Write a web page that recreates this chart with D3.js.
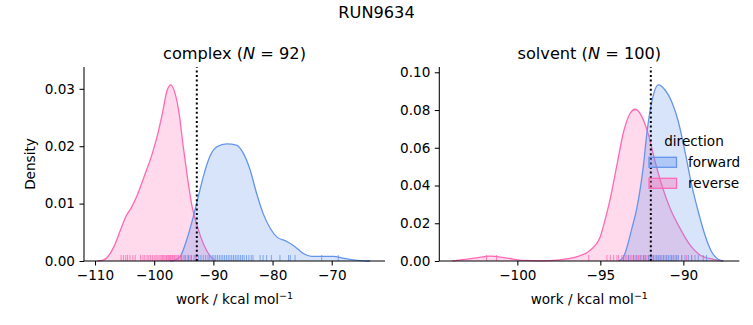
<!DOCTYPE html>
<html lang="en">
  <head>
    <meta charset="utf-8" />
    <script src="https://d3js.org/d3.v7.min.js"></script>
    <style>
      body { margin: 0; background: #fff; }
      svg text { font-family: 'DejaVu Sans', sans-serif; fill: #000; }
    </style>
  </head>
  <body>
    <svg id="chart" width="753" height="325"></svg>
    <script>
      // density curves: [work, density]
      const complexForward = [
        [-97.3, 0], [-96.4, 0.0002], [-95.6, 0.0008], [-94.5, 0.0037], [-93.4, 0.0077],
        [-92.55, 0.0112], [-91.7, 0.0147], [-90.6, 0.0182], [-89.4, 0.0199], [-87.75, 0.0204],
        [-86.1, 0.0202], [-84.95, 0.0188], [-83.8, 0.0159], [-82.7, 0.0118], [-81.6, 0.0083],
        [-80.4, 0.0057], [-79.3, 0.0042], [-77.6, 0.0034], [-76.2, 0.0025], [-74.8, 0.0013],
        [-73.4, 0.0008], [-71.4, 0.0008], [-69.7, 0.0008], [-68.1, 0.0005], [-66.4, 0.0002],
        [-64.1, 0], [-63.5, 0]
      ];
      const complexReverse = [
        [-109.6, 0], [-108.5, 0.0002], [-106.8, 0.0025], [-105.7, 0.0054], [-104.8, 0.0077],
        [-103.7, 0.0096], [-102.85, 0.0115], [-101.7, 0.0147], [-100.3, 0.0188], [-99.5, 0.0217],
        [-98.6, 0.0258], [-97.8, 0.0298], [-97.2, 0.0307], [-96.5, 0.0293], [-95.8, 0.0258],
        [-95.1, 0.02], [-94.4, 0.0147], [-93.6, 0.0095], [-92.7, 0.006], [-91.6, 0.0028],
        [-90.5, 0.0008], [-89.6, 0]
      ];
      const solventForward = [
        [-93.9, 0], [-93.6, 0.0023], [-93.1, 0.0173], [-92.8, 0.028], [-92.4, 0.0509],
        [-92.2, 0.0675], [-91.9, 0.0844], [-91.5, 0.0933], [-91.1, 0.0906], [-90.7, 0.0844],
        [-90.3, 0.0738], [-89.9, 0.0579], [-89.5, 0.0403], [-89.1, 0.0261], [-88.7, 0.0138],
        [-88.3, 0.0049], [-87.9, 0.0009], [-87.6, 0]
      ];
      const solventReverse = [
        [-103.9, 0], [-103.65, 0.0003], [-102.6, 0.0015], [-101.64, 0.0026], [-100.6, 0.0015],
        [-99.65, 0.0003], [-98.5, 0.0001], [-97.6, 0.0005], [-96.4, 0.0023], [-95.6, 0.0058],
        [-95.0, 0.013], [-94.8, 0.019], [-94.4, 0.0332], [-94.0, 0.0509], [-93.6, 0.0685],
        [-93.2, 0.0783], [-92.9, 0.0804], [-92.5, 0.0765], [-92.1, 0.0668], [-91.7, 0.0526],
        [-91.3, 0.0403], [-90.8, 0.0279], [-90.2, 0.0173], [-89.6, 0.0085], [-89.0, 0.0032],
        [-88.2, 0.0009], [-87.6, 0]
      ];

      // rug values (individual work samples)
      const complexReverseRug = [
        -105.6, -105.2, -104.8, -104.5, -104.1, -103.6, -103.2, -102.3, -101.9, -101.6,
        -101.2, -100.9, -100.6, -100.3, -100.0, -99.7, -99.5, -99.2, -99.0, -98.8,
        -98.6, -98.4, -98.2, -98.0, -97.9, -97.7, -97.6, -97.4, -97.3, -97.2,
        -97.0, -96.9, -96.8, -96.6, -96.5, -96.3, -96.1, -95.9, -95.6, -95.3,
        -95.0, -94.7, -94.4, -94.1, -93.8, -93.3, -92.9
      ];
      const complexForwardRug = [
        -95.4, -94.8, -94.2, -93.7, -93.1, -92.5, -92.1, -91.7, -91.3, -90.9,
        -90.6, -90.2, -89.9, -89.6, -89.3, -89.0, -88.7, -88.4, -88.1, -87.8,
        -87.5, -87.2, -86.9, -86.6, -86.3, -86.0, -85.7, -85.4, -85.1, -84.8,
        -84.4, -84.0, -83.6, -83.3, -82.1, -81.6, -81.0, -80.2, -78.75, -77.3,
        -77.0, -76.2, -71.7, -68.9
      ];
      const solventReverseRug = [
        -101.85, -101.25, -95.7, -94.6, -94.4, -94.2, -94.0, -93.9, -93.7, -93.6,
        -93.5, -93.4, -93.3, -93.2, -93.1, -93.0, -92.9, -92.8, -92.7, -92.6,
        -92.5, -92.4, -92.3, -92.2, -92.1, -92.0, -91.9, -91.8, -91.6, -91.4,
        -91.2, -91.0, -90.7, -90.4, -90.1, -89.8, -89.5
      ];
      const solventForwardRug = [
        -93.6, -93.3, -93.0, -92.8, -92.6, -92.4, -92.3, -92.1, -92.0, -91.9,
        -91.8, -91.7, -91.6, -91.5, -91.4, -91.3, -91.2, -91.1, -91.0, -90.9,
        -90.8, -90.7, -90.6, -90.5, -90.4, -90.3, -90.1, -89.9, -89.7, -89.5,
        -89.3, -89.1, -88.8, -88.6
      ];

      const directions = ['forward', 'reverse'];
      const colors = { forward: '#6495ed', reverse: '#ff69b4' };

      const panels = [
        {
          name: 'complex', n: 92, x0: 84, x1: 385,
          xDomain: [-111.86, -61.0], yDomain: [0, 0.0338],
          xTicks: [-110, -100, -90, -80, -70], yTicks: [0, 0.01, 0.02, 0.03],
          curves: { forward: complexForward, reverse: complexReverse },
          rugs: { forward: complexForwardRug, reverse: complexReverseRug },
          vline: -92.8, ylabel: true
        },
        {
          name: 'solvent', n: 100, x0: 439.3, x1: 739.3,
          xDomain: [-104.7, -86.63], yDomain: [0, 0.1028],
          xTicks: [-100, -95, -90], yTicks: [0, 0.02, 0.04, 0.06, 0.08, 0.1],
          curves: { forward: solventForward, reverse: solventReverse },
          rugs: { forward: solventForwardRug, reverse: solventReverseRug },
          vline: -91.96, ylabel: false
        }
      ];

      const svg = d3.select('#chart');
      const yTop = 67, yBottom = 261;
      const tickFont = '13.6px', titleFont = '16.2px';

      svg.append('text')
        .attr('x', 376.5).attr('y', 18)
        .attr('text-anchor', 'middle')
        .style('font-size', titleFont)
        .text('RUN9634');

      panels.forEach(function (p) {
        const x = d3.scaleLinear().domain(p.xDomain).range([p.x0, p.x1]);
        const y = d3.scaleLinear().domain(p.yDomain).range([yBottom, yTop]);
        const g = svg.append('g');

        const area = d3.area()
          .x(d => x(d[0])).y0(y(0)).y1(d => y(d[1]))
          .curve(d3.curveMonotoneX);
        const line = d3.line()
          .x(d => x(d[0])).y(d => y(d[1]))
          .curve(d3.curveMonotoneX);

        // reverse drawn first, forward on top
        ['reverse', 'forward'].forEach(function (dir) {
          g.append('path')
            .attr('d', area(p.curves[dir]))
            .attr('fill', colors[dir])
            .attr('fill-opacity', 0.25);
          g.append('path')
            .attr('d', line(p.curves[dir]))
            .attr('fill', 'none')
            .attr('stroke', colors[dir])
            .attr('stroke-width', 1.3);
        });

        // rug
        ['reverse', 'forward'].forEach(function (dir) {
          g.selectAll(null)
            .data(p.rugs[dir])
            .enter()
            .append('line')
            .attr('x1', d => x(d)).attr('x2', d => x(d))
            .attr('y1', yBottom).attr('y2', yBottom - 6)
            .attr('stroke', colors[dir])
            .attr('stroke-opacity', 0.8)
            .attr('stroke-width', 1);
        });

        g.append('line')
          .attr('x1', x(p.vline)).attr('x2', x(p.vline))
          .attr('y1', yBottom).attr('y2', yTop)
          .attr('stroke', '#000')
          .attr('stroke-width', 2)
          .attr('stroke-dasharray', '2,2.6');

        const xAxis = g.append('g')
          .attr('transform', `translate(0,${yBottom})`)
          .call(d3.axisBottom(x).tickValues(p.xTicks).tickFormat(d3.format('d'))
            .tickSize(4.5).tickPadding(4.5));
        const yAxis = g.append('g')
          .attr('transform', `translate(${p.x0},0)`)
          .call(d3.axisLeft(y).tickValues(p.yTicks).tickFormat(d3.format('.2f'))
            .tickSize(4.5).tickPadding(4.5));
        [xAxis, yAxis].forEach(function (a) {
          a.select('.domain').attr('stroke', '#000').attr('stroke-width', 1.05)
            .attr('d', a === xAxis
              ? `M${p.x0},0H${p.x1}`
              : `M0,${yBottom}V${yTop}`);
          a.selectAll('.tick line').attr('stroke', '#000').attr('stroke-width', 1.05);
          a.selectAll('.tick text').style('font-size', tickFont)
            .style('font-family', "'DejaVu Sans', sans-serif");
        });

        const cx = (p.x0 + p.x1) / 2;
        const title = g.append('text')
          .attr('x', cx).attr('y', 59)
          .attr('text-anchor', 'middle')
          .style('font-size', titleFont);
        title.append('tspan').text(p.name + ' (');
        title.append('tspan').style('font-style', 'italic').text('N');
        title.append('tspan').text(' = ' + p.n + ')');

        const xl = g.append('text')
          .attr('x', cx).attr('y', 304)
          .attr('text-anchor', 'middle')
          .style('font-size', tickFont);
        xl.append('tspan').text('work / kcal mol');
        xl.append('tspan').attr('dy', -5).style('font-size', '9.5px').text('−1');

        if (p.ylabel) {
          g.append('text')
            .attr('transform', `translate(35,${(yTop + yBottom) / 2}) rotate(-90)`)
            .attr('text-anchor', 'middle')
            .style('font-size', tickFont)
            .text('Density');
        }
      });

      // legend
      const legend = svg.append('g').attr('transform', 'translate(649,0)');
      legend.append('text')
        .attr('x', 45).attr('y', 146)
        .attr('text-anchor', 'middle')
        .style('font-size', tickFont)
        .text('direction');
      directions.forEach(function (dir, i) {
        const cy = 162.3 + i * 21;
        legend.append('rect')
          .attr('x', 0).attr('y', cy - 5)
          .attr('width', 27.5).attr('height', 10)
          .attr('fill', colors[dir]).attr('fill-opacity', 0.35)
          .attr('stroke', colors[dir]).attr('stroke-width', 1.3);
        legend.append('text')
          .attr('x', 39).attr('y', cy + 4.5)
          .style('font-size', tickFont)
          .text(dir);
      });
    </script>
  </body>
</html>
